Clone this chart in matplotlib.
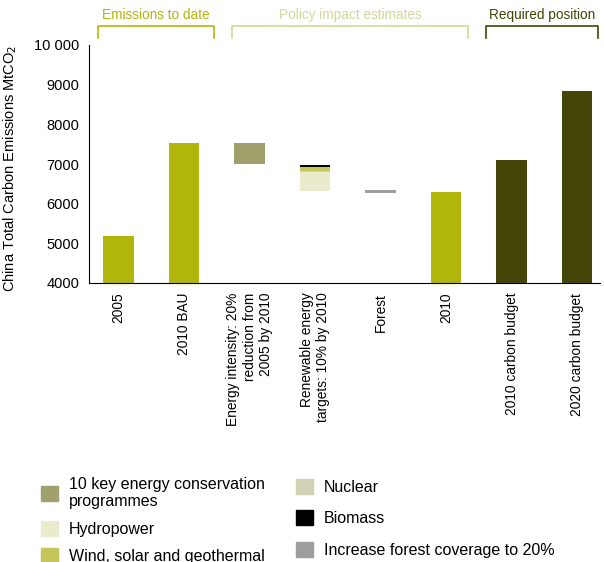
import matplotlib.pyplot as plt
from matplotlib.patches import Patch

plt.rcParams['font.family'] = ['Liberation Sans', 'DejaVu Sans']

categories = ['2005', '2010 BAU', 'Energy intensity: 20%\nreduction from\n2005 by 2010',
              'Renewable energy\ntargets: 10% by 2010', 'Forest', '2010',
              '2010 carbon budget', '2020 carbon budget']

# full bars
emissions_2005 = 5180
emissions_2010_bau = 7530
emissions_2010 = 6290
budget_2010 = 7100
budget_2020 = 8840

# waterfall segments (top, bottom)
conservation = (7530, 6990)
biomass = (6970, 6920)
wind_solar = (6920, 6820)
nuclear = (6820, 6800)
hydropower = (6800, 6320)
forest = (6340, 6270)

c_date = '#b3b60a'
c_budget = '#434606'
c_cons = '#9fa06b'
c_hydro = '#eaebcd'
c_wind = '#c4c65a'
c_nuclear = '#cfd3b4'
c_bio = '#000000'
c_forest = '#9e9e9e'

fig = plt.figure(figsize=(6.04, 5.62), dpi=100)
ax = fig.add_axes([89 / 604, 1 - 283 / 562, 511 / 604, 238 / 562])

w = 0.47
ax.bar(0, emissions_2005 - 4000, bottom=4000, width=w, color=c_date)
ax.bar(1, emissions_2010_bau - 4000, bottom=4000, width=w, color=c_date)
ax.bar(2, conservation[0] - conservation[1], bottom=conservation[1], width=w, color=c_cons)
for seg, col in [(biomass, c_bio), (wind_solar, c_wind), (nuclear, c_nuclear), (hydropower, c_hydro)]:
    ax.bar(3, seg[0] - seg[1], bottom=seg[1], width=w, color=col)
ax.bar(4, forest[0] - forest[1], bottom=forest[1], width=w, color=c_forest)
ax.bar(5, emissions_2010 - 4000, bottom=4000, width=w, color=c_date)
ax.bar(6, budget_2010 - 4000, bottom=4000, width=w, color=c_budget)
ax.bar(7, budget_2020 - 4000, bottom=4000, width=w, color=c_budget)

ax.set_xlim(-0.45, 7.35)
ax.set_ylim(4000, 10000)
yt = [4000, 5000, 6000, 7000, 8000, 9000, 10000]
ax.set_yticks(yt)
ax.set_yticklabels(['4000', '5000', '6000', '7000', '8000', '9000', '10 000'], fontsize=10.5)
ax.set_xticks(range(len(categories)))
ax.set_xticklabels(categories, rotation=90, fontsize=9.9, ha='center', va='top',
                   multialignment='right')
ax.tick_params(length=0, pad=7)
ax.spines['top'].set_visible(False)
ax.spines['right'].set_visible(False)
ax.set_ylabel('China Total Carbon Emissions MtCO$_2$', fontsize=10.5)
ax.yaxis.set_label_coords(-0.137, 0.48)

# group brackets on top
groups = [('Emissions to date', -0.31, 1.46, '#b3b60a'),
          ('Policy impact estimates', 1.73, 5.34, '#d4d79a'),
          ('Required position', 5.61, 7.32, '#434606')]
trans = ax.get_xaxis_transform()
for name, x0, x1, col in groups:
    ax.plot([x0, x0, x1, x1], [1.029, 1.080, 1.080, 1.029], color=col, lw=1.2,
            transform=trans, clip_on=False)
    ax.text((x0 + x1) / 2, 1.125, name, color=col, fontsize=9.8, ha='center',
            va='center', transform=trans)

h1 = [Patch(color=c_cons), Patch(color=c_hydro), Patch(color=c_wind)]
l1 = ['10 key energy conservation\nprogrammes', 'Hydropower', 'Wind, solar and geothermal']
h2 = [Patch(color=c_nuclear), Patch(color=c_bio), Patch(color=c_forest)]
l2 = ['Nuclear', 'Biomass', 'Increase forest coverage to 20%']
kw = dict(frameon=False, fontsize=11.5, handlelength=1.06, handleheight=1.06,
          handletextpad=0.7, borderpad=0, borderaxespad=0)
fig.legend(h1, l1, loc='upper left', bbox_to_anchor=(41 / 604, 1 - 477 / 562),
           labelspacing=0.72, **kw)
fig.legend(h2, l2, loc='upper left', bbox_to_anchor=(296 / 604, 1 - 479 / 562),
           labelspacing=0.97, **kw)

fig.savefig('out.png', dpi=100)
